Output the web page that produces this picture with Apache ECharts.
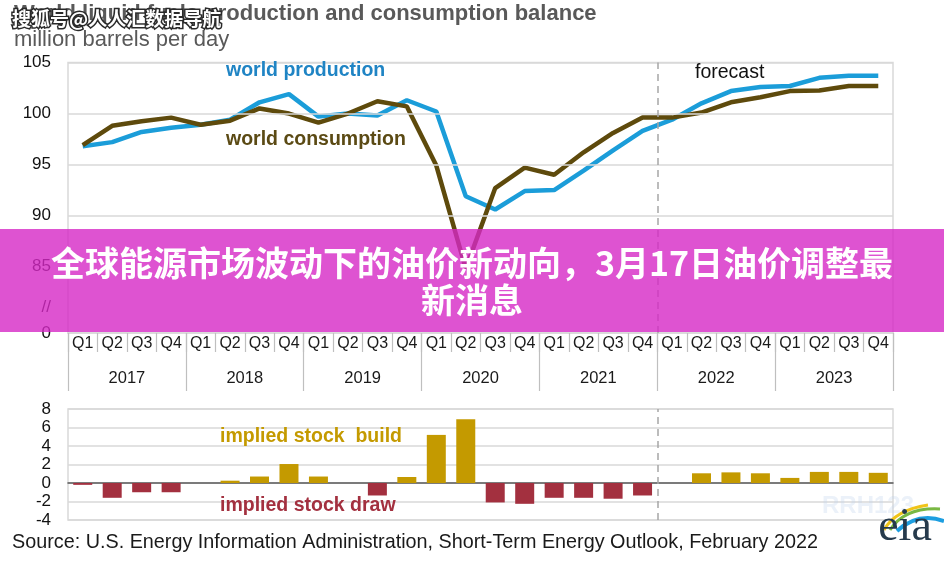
<!DOCTYPE html>
<html><head><meta charset="utf-8">
<script src="https://cdn.jsdelivr.net/npm/echarts@6/dist/echarts.min.js"></script>
<style>html,body{margin:0;padding:0;background:#fff}#c{width:944px;height:563px}</style>
</head><body><div id="c"></div>
<script>
// ---------- data ----------
const quarterLabels = ['Q1','Q2','Q3','Q4','Q1','Q2','Q3','Q4','Q1','Q2','Q3','Q4','Q1','Q2','Q3','Q4','Q1','Q2','Q3','Q4','Q1','Q2','Q3','Q4','Q1','Q2','Q3','Q4'];
const yearLabels = ['2017','2018','2019','2020','2021','2022','2023'];
const production = [96.8, 97.2, 98.2, 98.6, 98.9, 99.4, 101.1, 101.9, 99.7, 100.0, 99.8, 101.3, 100.2, 91.9, 90.6, 92.4, 92.5, 94.4, 96.4, 98.3, 99.4, 101.0, 102.2, 102.6, 102.7, 103.5, 103.7, 103.7];
const consumption = [96.9, 98.8, 99.25, 99.6, 98.9, 99.3, 100.5, 100.0, 99.1, 100.0, 101.2, 100.7, 94.9, 84.8, 92.7, 94.7, 94.0, 96.2, 98.1, 99.6, 99.6, 100.1, 101.1, 101.6, 102.2, 102.25, 102.7, 102.7];
const stockChange = [-0.2, -1.6, -1.0, -1.0, 0, 0.25, 0.7, 2.05, 0.7, 0, -1.35, 0.65, 5.2, 6.9, -2.1, -2.25, -1.6, -1.6, -1.7, -1.35, 0, 1.05, 1.15, 1.05, 0.55, 1.2, 1.2, 1.1];
const topTickLabels = [85, 90, 95, 100, 105];
const topGridValues = [90, 95, 100, 105];
const topAxisBreakValue = 81;   // where the "//" break mark sits
const topAxisZeroValue = 78.5;  // bottom of the broken axis, labelled "0"
const forecastBoundary = 19.5;  // between 2021 Q4 and 2022 Q1

// ---------- chart ----------
const FONT = '"Liberation Sans", Arial, sans-serif';
const CJK = '"Noto Sans CJK SC", sans-serif';
const chart = echarts.init(document.getElementById('c'), null, {renderer: 'canvas'});

const option = {
  animation: false,
  backgroundColor: '#fff',
  textStyle: {fontFamily: FONT},
  grid: [
    {left: 68, right: 51, top: 62.5, bottom: 230, show: true, borderColor: '#d9d9d9', borderWidth: 1.5},
    {left: 68, right: 51, top: 409, bottom: 43, show: true, borderColor: '#d9d9d9', borderWidth: 1.5}
  ],
  xAxis: [
    {gridIndex: 0, type: 'category', data: quarterLabels, position: 'bottom',
     axisLine: {show: true, lineStyle: {color: '#d9d9d9', width: 1.5}},
     axisTick: {show: true, interval: 0, length: 19, lineStyle: {color: '#bfbfbf', width: 1.2}},
     axisLabel: {interval: 0, margin: 3, fontSize: 16, color: '#1a1a1a', fontFamily: FONT}},
    {gridIndex: 0, type: 'category', data: yearLabels, position: 'bottom',
     axisLine: {show: false},
     axisTick: {show: true, interval: 0, length: 58, lineStyle: {color: '#bfbfbf', width: 1.2}},
     axisLabel: {interval: 0, margin: 37, fontSize: 16.5, color: '#1a1a1a', fontFamily: FONT}},
    {gridIndex: 0, type: 'value', min: -0.5, max: 27.5, show: false},
    {gridIndex: 1, type: 'category', data: quarterLabels,
     axisLine: {show: true, onZero: true, lineStyle: {color: '#595959', width: 1.5}},
     axisTick: {show: false}, axisLabel: {show: false}},
    {gridIndex: 1, type: 'value', min: -0.5, max: 27.5, show: false}
  ],
  yAxis: [
    {gridIndex: 0, type: 'value', min: topAxisZeroValue, max: 105, interval: 0.5,
     splitLine: {show: false}, axisLine: {show: false}, axisTick: {show: false},
     axisLabel: {fontSize: 17, color: '#111', margin: 17, fontFamily: FONT,
       formatter: function (v) {
         const r = Math.round(v * 10) / 10;
         if (topTickLabels.indexOf(r) >= 0) return String(r);
         if (r === topAxisBreakValue) return '//';
         if (r === topAxisZeroValue) return '0';
         return '';
       }}},
    {gridIndex: 1, type: 'value', min: -4, max: 8, interval: 2,
     splitLine: {show: true, lineStyle: {color: '#d9d9d9', width: 1.5}},
     axisLine: {show: false}, axisTick: {show: false},
     axisLabel: {fontSize: 17, color: '#111', margin: 17, fontFamily: FONT}}
  ],
  series: [
    {type: 'line', xAxisIndex: 0, yAxisIndex: 0, data: [], z: 1, silent: true,
     markLine: {silent: true, symbol: ['none', 'none'], label: {show: false},
       lineStyle: {color: '#d9d9d9', type: 'solid', width: 1.5},
       data: topGridValues.map(v => ({yAxis: v}))}},
    {type: 'line', xAxisIndex: 2, yAxisIndex: 0, data: [], z: 1, silent: true,
     markLine: {silent: true, symbol: ['none', 'none'], label: {show: false},
       lineStyle: {color: '#a6a6a6', type: [7, 5], width: 1.5},
       data: [{xAxis: forecastBoundary}]}},
    {type: 'line', xAxisIndex: 4, yAxisIndex: 1, data: [], z: 1, silent: true,
     markLine: {silent: true, symbol: ['none', 'none'], label: {show: false},
       lineStyle: {color: '#a6a6a6', type: [7, 5], width: 1.5},
       data: [{xAxis: forecastBoundary}]}},
    {name: 'world production', type: 'line', xAxisIndex: 0, yAxisIndex: 0, data: production,
     symbol: 'none', z: 3, lineStyle: {color: '#1b9dd9', width: 4.5}},
    {name: 'world consumption', type: 'line', xAxisIndex: 0, yAxisIndex: 0, data: consumption,
     symbol: 'none', z: 4, lineStyle: {color: '#5e4a0c', width: 4.5}},
    {name: 'implied stock change', type: 'bar', xAxisIndex: 3, yAxisIndex: 1, data: stockChange,
     barWidth: 19, z: 3,
     itemStyle: {color: function (p) { return p.value >= 0 ? '#c49a00' : '#a3303f'; }}}
  ],
  graphic: [
    {type: 'text', x: 14, y: 14, z: 50, style: {text: 'World liquid fuels production and consumption balance', font: 'bold 22px ' + FONT, fill: '#595959', textVerticalAlign: 'middle'}},
    {type: 'text', x: 14, y: 40, z: 50, style: {text: 'million barrels per day', font: '22px ' + FONT, fill: '#595959', textVerticalAlign: 'middle'}},
    {type: 'text', x: 12, y: 19, z: 60, style: {text: '搜狐号@人人汇数据导航', font: 'bold 19px ' + CJK, fill: '#ffffff', stroke: '#2a2a2a', lineWidth: 3, strokeFirst: true, textVerticalAlign: 'middle'}},
    {type: 'text', x: 226, y: 71, z: 50, style: {text: 'world production', font: 'bold 19.5px ' + FONT, fill: '#1f84c4', textVerticalAlign: 'middle'}},
    {type: 'text', x: 226, y: 140, z: 50, style: {text: 'world consumption', font: 'bold 19.5px ' + FONT, fill: '#5b4a14', textVerticalAlign: 'middle'}},
    {type: 'text', x: 695, y: 73, z: 50, style: {text: 'forecast', font: '19.5px ' + FONT, fill: '#111', textVerticalAlign: 'middle'}},
    {type: 'text', x: 220, y: 437, z: 50, style: {text: 'implied stock  build', font: 'bold 19.5px ' + FONT, fill: '#c49a00', textVerticalAlign: 'middle'}},
    {type: 'text', x: 220, y: 506, z: 50, style: {text: 'implied stock draw', font: 'bold 19.5px ' + FONT, fill: '#a3303f', textVerticalAlign: 'middle'}},
    {type: 'text', x: 12, y: 543, z: 50, style: {text: 'Source: U.S. Energy Information Administration, Short-Term Energy Outlook, February 2022', font: '19.8px ' + FONT, fill: '#1a1a1a', textVerticalAlign: 'middle'}},
    {type: 'text', x: 822, y: 506, z: 40, style: {text: 'RRH123', font: 'bold 24px ' + FONT, fill: 'rgba(190,210,236,0.3)', textVerticalAlign: 'middle'}},
    {type: 'bezierCurve', z: 50, shape: {x1: 884, y1: 530, x2: 928, y2: 505, cpx1: 895, cpy1: 510}, style: {stroke: '#f0c419', lineWidth: 3, fill: null}},
    {type: 'bezierCurve', z: 50, shape: {x1: 890, y1: 530, x2: 940, y2: 509, cpx1: 905, cpy1: 507}, style: {stroke: '#79b843', lineWidth: 3, fill: null}},
    {type: 'bezierCurve', z: 50, shape: {x1: 897, y1: 531, x2: 944, y2: 521, cpx1: 918, cpy1: 512}, style: {stroke: '#1d9ee0', lineWidth: 4, fill: null}},
    {type: 'text', x: 905, y: 551, z: 50, style: {text: 'eia', font: '46px "Liberation Serif", serif', fill: '#263a4c', textAlign: 'center', textVerticalAlign: 'bottom'}},
    {type: 'rect', z: 100, shape: {x: 0, y: 229, width: 944, height: 103}, style: {fill: 'rgba(214,40,198,0.8)'}},
    {type: 'text', x: 472, y: 282, z: 101, style: {text: '全球能源市场波动下的油价新动向，3月17日油价调整最\n新消息', font: 'bold 34px ' + CJK, fill: '#ffffff', textAlign: 'center', textVerticalAlign: 'middle', lineHeight: 37}}
  ]
};
chart.setOption(option);
</script>
</body></html>
